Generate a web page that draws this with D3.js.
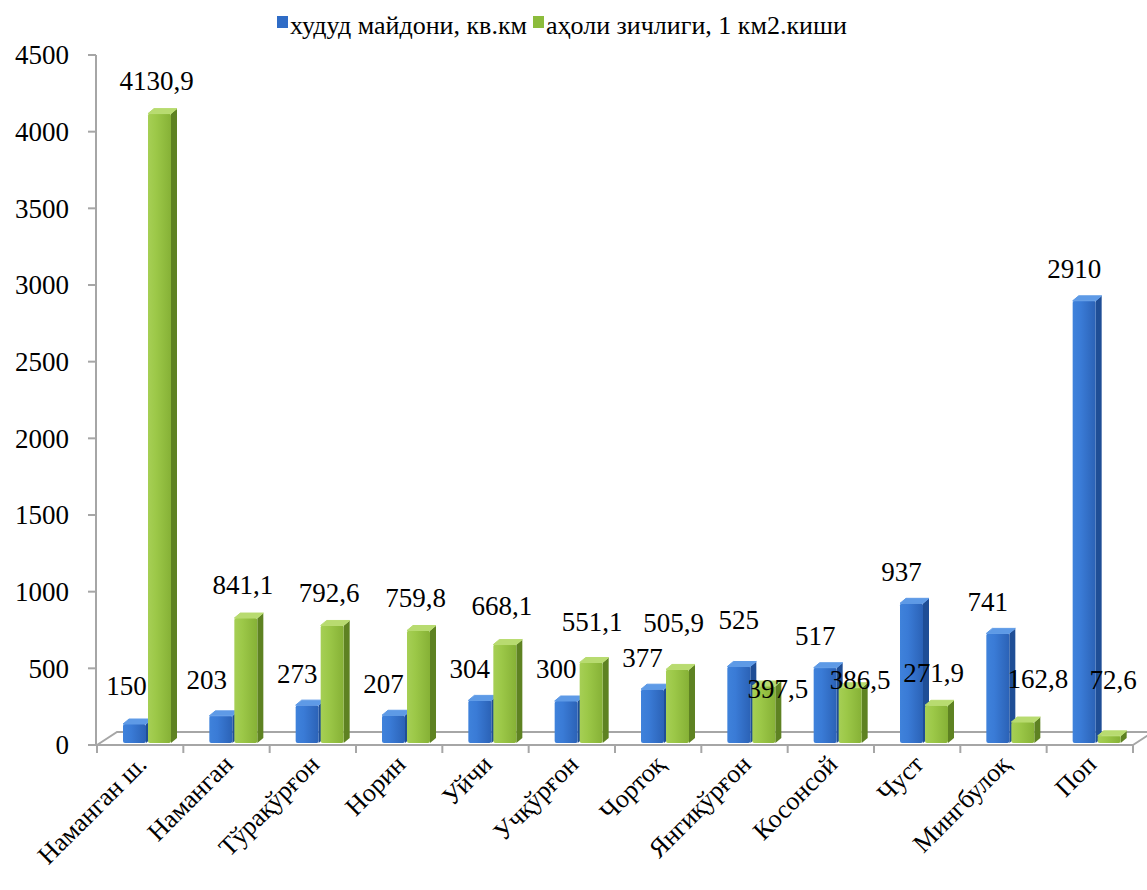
<!DOCTYPE html>
<html><head><meta charset="utf-8"><script src="https://cdn.jsdelivr.net/npm/d3@7"></script></head>
<body style="margin:0">
<script>
// data
var categories = ["Наманган ш.", "Наманган", "Тўрақўрғон", "Норин", "Уйчи", "Учқўрғон",
  "Чортоқ", "Янгиқўрғон", "Косонсой", "Чуст", "Мингбулоқ", "Поп"]
var area = [150, 203, 273, 207, 304, 300, 377, 525, 517, 937, 741, 2910]
var density = [4130.9, 841.1, 792.6, 759.8, 668.1, 551.1, 505.9, 397.5, 386.5, 271.9, 162.8, 72.6]
var seriesNames = ["худуд майдони, кв.км", "аҳоли зичлиги, 1 км2.киши"]
var yTicks = [0, 500, 1000, 1500, 2000, 2500, 3000, 3500, 4000, 4500]

// label nudges (dx, dy) where the labels were moved apart in the original
var blueNudge = { 0: [2, -6], 1: [-4, -4], 7: [10, -15] }
var greenNudge = { 4: [0, -6], 5: [4, -8], 6: [-1, -14], 7: [17, 35], 8: [13, 25], 10: [18, -10], 11: [7, -23] }

var width = 1147, height = 890
var svg = d3.select("body").append("svg")
  .attr("width", width).attr("height", height)

function label(sel, size) {
  return sel.attr("font-size", size).style("font-family", "'Times New Roman'")
}

var defs = svg.append("defs")
function grad(id, stops) {
  var g = defs.append("linearGradient").attr("id", id)
    .attr("x1", "0%").attr("x2", "100%").attr("y1", "0%").attr("y2", "0%")
  stops.forEach(function(s) {
    g.append("stop").attr("offset", s[0]).attr("stop-color", s[1])
  })
}
grad("blueFront", [["0%", "#3f82db"], ["35%", "#3a7bd6"], ["100%", "#2b62b6"]])
grad("greenFront", [["0%", "#a6cf55"], ["35%", "#9cc848"], ["100%", "#86b136"]])

var colors = [
  { front: "url(#blueFront)", side: "#1f4e96", top: "#5e9ae6", legend: "#2f6cc6" },
  { front: "url(#greenFront)", side: "#5e8222", top: "#b8db70", legend: "#8cbc3c" }
]

// scales
var x0 = 97, x1 = 1133
var x = d3.scaleBand().domain(categories).range([x0, x1])
var y = d3.scaleLinear().domain([0, 4500]).range([745, 55])
var depthX = 20, depthY = -13

// floor
svg.append("path")
  .attr("d", "M" + x0 + "," + y(0) + "L" + (x0 + depthX) + "," + (y(0) + depthY) +
    "L" + (x1 + depthX) + "," + (y(0) + depthY) + "L" + x1 + "," + y(0))
  .attr("fill", "none").attr("stroke", "#a6a6a6").attr("stroke-width", 2)

// y axis
var yAxis = svg.append("g")
yAxis.append("line")
  .attr("x1", 96).attr("x2", 96).attr("y1", y(4500)).attr("y2", y(0))
  .attr("stroke", "#a6a6a6").attr("stroke-width", 2)
yAxis.selectAll(".tick").data(yTicks).enter().append("line")
  .attr("x1", 88).attr("x2", 96)
  .attr("y1", function(d) { return y(d) }).attr("y2", function(d) { return y(d) })
  .attr("stroke", "#a6a6a6").attr("stroke-width", 2)
label(yAxis.selectAll(".lbl").data(yTicks).enter().append("text"), 27)
  .attr("x", 69).attr("y", function(d) { return y(d) })
  .attr("dy", "0.35em")
  .attr("text-anchor", "end")
  .text(function(d) { return d })

// x axis line + ticks
svg.append("line")
  .attr("x1", x0).attr("x2", x1).attr("y1", y(0)).attr("y2", y(0))
  .attr("stroke", "#a6a6a6").attr("stroke-width", 2)
svg.selectAll(".xt").data(categories.concat(["end"])).enter().append("line")
  .attr("x1", function(d, i) { return x0 + i * x.bandwidth() })
  .attr("x2", function(d, i) { return x0 + i * x.bandwidth() })
  .attr("y1", y(0)).attr("y2", y(0) + 8)
  .attr("stroke", "#a6a6a6").attr("stroke-width", 2)

// 3d bars
var barW = 23, dX = 6, dY = -5, base = y(0) - 2
var offsets = [26, 51]

function drawBar(g, left, value, c) {
  var top = y(value) + 2
  var h = base - top
  g.append("path")
    .attr("d", "M" + (left + barW) + "," + base + "L" + (left + barW) + "," + top +
      "L" + (left + barW + dX) + "," + (top + dY) + "L" + (left + barW + dX) + "," + (base + dY) + "Z")
    .attr("fill", c.side)
  g.append("rect")
    .attr("x", left).attr("y", top).attr("width", barW).attr("height", Math.max(h, 1))
    .attr("rx", 2)
    .attr("fill", c.front)
  g.append("path")
    .attr("d", "M" + left + "," + top + "L" + (left + dX) + "," + (top + dY) +
      "L" + (left + barW + dX) + "," + (top + dY) + "L" + (left + barW) + "," + top + "Z")
    .attr("fill", c.top)
    .attr("stroke", c.top).attr("stroke-width", 1).attr("stroke-linejoin", "round")
}

var bars = svg.append("g")
categories.forEach(function(cat, i) {
  var g = bars.append("g")
  drawBar(g, x(cat) + offsets[0], area[i], colors[0])
  drawBar(g, x(cat) + offsets[1], density[i], colors[1])
})

// value labels
function fmt(v) { return String(v).replace(".", ",") }
var labels = svg.append("g")
categories.forEach(function(cat, i) {
  var nb = blueNudge[i] || [0, 0]
  var ng = greenNudge[i] || [0, 0]
  label(labels.append("text"), 27)
    .attr("x", x(cat) + offsets[0] + barW / 2 - 10 + nb[0])
    .attr("y", y(area[i]) - 30 + nb[1])
    .attr("dy", "0.35em")
    .attr("text-anchor", "middle")
    .text(fmt(area[i]))
  label(labels.append("text"), 27)
    .attr("x", x(cat) + offsets[1] + barW / 2 - 3 + ng[0])
    .attr("y", y(density[i]) - 31 + ng[1])
    .attr("dy", "0.35em")
    .attr("text-anchor", "middle")
    .text(fmt(density[i]))
})

// category labels
label(svg.append("g").selectAll("text").data(categories).enter().append("text"), 26)
  .attr("transform", function(d) {
    var cx = x(d) + x.bandwidth() / 2 + 8
    return "translate(" + cx + "," + 766 + ") rotate(-45)"
  })
  .attr("text-anchor", "end")
  .text(function(d) { return d })

// legend
var legend = svg.append("g")
var legX = [277, 533]
seriesNames.forEach(function(name, i) {
  legend.append("rect")
    .attr("x", legX[i]).attr("y", 16).attr("width", 11).attr("height", 12)
    .attr("fill", colors[i].legend)
  label(legend.append("text"), 26)
    .attr("x", legX[i] + 13).attr("y", 34)
    .text(name)
})
</script></body></html>
